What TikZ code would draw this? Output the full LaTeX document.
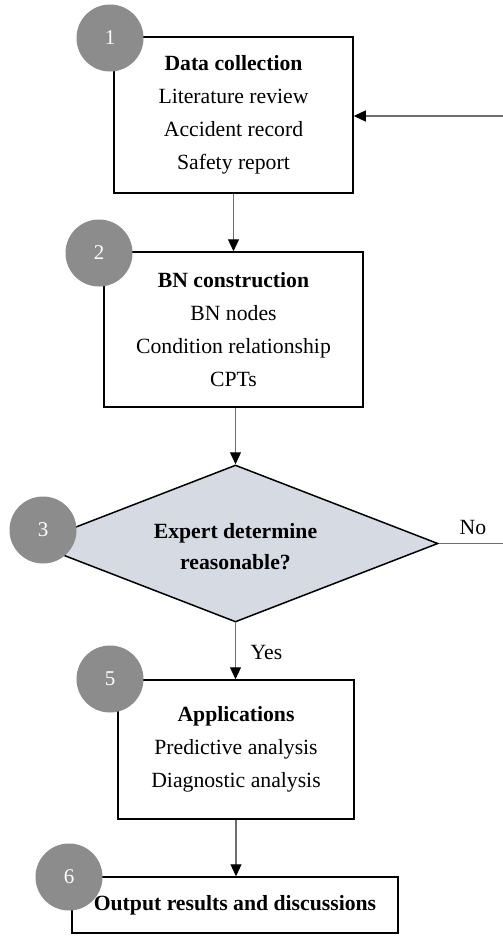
\documentclass[tikz,border=0pt]{standalone}
\usepackage{fontspec}
\setmainfont{Liberation Serif}
\usetikzlibrary{arrows.meta,shapes.geometric}
\definecolor{circ}{HTML}{8C8C8C}
\definecolor{dfill}{HTML}{D5DAE3}
\definecolor{conn}{HTML}{6E6E6E}
\begin{document}
\begin{tikzpicture}[x=1pt,y=-1pt,
  box/.style={draw=black, line width=1.5pt, rectangle, inner sep=0pt, align=center, font=\fontsize{21.7}{33}\selectfont},
  numc/.style={circle, fill=circ, minimum size=67pt, inner sep=0pt, text=white, font=\fontsize{21}{21}\selectfont},
  arr/.style={draw=conn, line width=1.2pt, -{Triangle[length=12pt,width=11pt,color=black]}},
  plain/.style={draw=conn, line width=1.2pt},
  lbl/.style={font=\fontsize{21.7}{26}\selectfont, inner sep=0pt}]
\fill[white] (0,0) rectangle (503,937);
\useasboundingbox (0,0) rectangle (503,937);
% boxes
\node[box, minimum width=239pt, minimum height=156pt] (b1) at (233.5,115)
  {\textbf{Data collection}\\Literature review\\Accident record\\Safety report};
\node[box, minimum width=259pt, minimum height=155pt] (b2) at (233.5,329.5)
  {\textbf{BN construction}\\BN nodes\\Condition relationship\\CPTs};
\node[diamond, draw=black, line width=1.5pt, fill=dfill, minimum width=405pt, minimum height=157pt, inner sep=0pt] (d) at (235.5,543.5) {};
\node[font=\bfseries\fontsize{21.7}{31}\selectfont, align=center, inner sep=0pt] (dt) at (235.5,547) {Expert determine\\reasonable?};
\node[box, minimum width=236pt, minimum height=139pt] (b5) at (236,749.5)
  {\textbf{Applications}\\Predictive analysis\\Diagnostic analysis};
\node[box, minimum width=326pt, minimum height=56pt] (b6) at (235,905)
  {\textbf{Output results and discussions}};
% connectors
\draw[arr] (b1.south) -- (b2.north);
\draw[arr] (b2.south -| d.north) -- (d.north);
\draw[arr] (d.south) -- (d.south |- b5.north);
\draw[arr] (b5.south) -- (b5.south |- b6.north);
\coordinate (fb) at (503,116);
\draw[arr] (fb) -- (fb -| b1.east);
\coordinate (ne) at (503,543.5);
\draw[plain] (d.east) -- (ne);
\node[lbl] (no) at (473,527) {No};
\node[lbl] (yes) at (266.5,652) {Yes};
% numbered circles
\node[numc] (c1) at (110,38) {1};
\node[numc] (c2) at (99,253) {2};
\node[numc] (c3) at (43,530) {3};
\node[numc] (c5) at (110,679) {5};
\node[numc] (c6) at (69,877) {6};
\end{tikzpicture}
\end{document}
